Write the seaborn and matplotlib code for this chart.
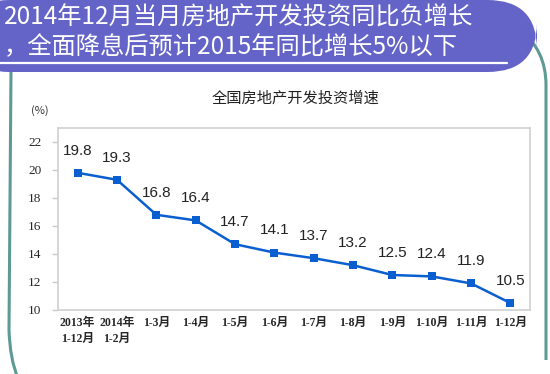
import matplotlib
matplotlib.use('Agg')
import matplotlib.pyplot as plt
import numpy as np
import pandas as pd
import seaborn as sns
from matplotlib.patches import FancyBboxPatch, PathPatch
from matplotlib.path import Path

sns.set_theme(style='white')
plt.rcParams['font.family'] = ['Noto Sans CJK SC', 'DejaVu Sans']

# Data
periods = ['2013年\n1-12月', '2014年\n1-2月', '1-3月', '1-4月', '1-5月', '1-6月',
           '1-7月', '1-8月', '1-9月', '1-10月', '1-11月', '1-12月']
growth = [19.8, 19.3, 16.8, 16.4, 14.7, 14.1, 13.7, 13.2, 12.5, 12.4, 11.9, 10.5]
y_ticks = [10, 12, 14, 16, 18, 20, 22]

headline = '2014年12月当月房地产开发投资同比负增长\n，全面降息后预计2015年同比增长5%以下'
chart_title = '全国房地产开发投资增速'

W, H = 550, 374
fig = plt.figure(figsize=(W / 100, H / 100), dpi=100)
fig.patch.set_facecolor('white')


def px(x, y):
    # pixel coords (top-left origin) -> figure fraction
    return x / W, 1 - y / H


teal = '#5E9A94'
# teal outline frame
verts = [px(11, 70), px(9, 330), px(10, 360), px(18, 378)]
fig.add_artist(PathPatch(Path(verts, [Path.MOVETO, Path.LINETO, Path.CURVE3, Path.CURVE3]),
                         facecolor='none', edgecolor=teal, lw=2.2, transform=fig.transFigure))
verts = [px(520, 30), px(546, 50), px(546, 85), px(546, 360)]
fig.add_artist(PathPatch(Path(verts, [Path.MOVETO, Path.CURVE3, Path.CURVE3, Path.LINETO]),
                         facecolor='none', edgecolor=teal, lw=2.2, transform=fig.transFigure))

# banner
x0, y0 = px(-40, 72)
x1, y1 = px(537, 0)
banner = FancyBboxPatch((x0, y0), x1 - x0, y1 - y0,
                        boxstyle='round,pad=0,rounding_size=0.09',
                        mutation_aspect=W / H,
                        facecolor='#6464C8', edgecolor='none',
                        transform=fig.transFigure)
fig.add_artist(banner)
fig.add_artist(plt.Line2D([0, 507 / W], [1 - 63 / H] * 2, color='white', lw=1.6,
                          transform=fig.transFigure))
fig.text(4 / W, 1 - 32 / H, headline, color='white', fontsize=17.5, fontweight='medium',
         ha='left', va='center', linespacing=1.18,
         family=['Noto Sans CJK SC', 'DejaVu Sans'])

# chart
ax = fig.add_axes([58 / W, 1 - 310 / H, 472 / W, 182 / H])
x = np.arange(len(growth))
df = pd.DataFrame({'x': x, 'growth': growth})
sns.lineplot(data=df, x='x', y='growth', ax=ax, color='#0A5FD0', lw=1.8,
             marker='s', markersize=5.5, markeredgewidth=0)

for xi, v in zip(x, growth):
    ax.annotate(f'{v}', (xi, v), xytext=(0, 11), textcoords='offset points',
                ha='center', va='bottom', fontsize=11, color='#222222',
                family=['Liberation Sans', 'DejaVu Sans'])

ax.set_xlim(-0.5, len(growth) - 0.5)
ax.set_ylim(10, 23)
ax.set_yticks(y_ticks)
ax.set_yticklabels([str(t) for t in y_ticks], fontsize=9.5,
                   family=['Liberation Serif', 'Noto Sans CJK SC'])
ax.set_xticks(x)
ax.set_xticklabels(periods, fontsize=8.5, linespacing=1.4, fontweight='bold',
                   family=['Liberation Serif', 'Noto Sans CJK SC'], va='top')
ax.set_xticks(np.arange(len(growth) - 1) + 0.5, minor=True)
ax.tick_params(axis='x', which='major', length=0, pad=5)
ax.tick_params(axis='x', which='minor', length=4, direction='in', color='#C8C8C8', width=1)
ax.tick_params(axis='y', length=4, direction='out', color='#C8C8C8', width=1, pad=8, left=True)
ax.set_xlabel('')
ax.set_ylabel('')
for s in ax.spines.values():
    s.set_color('#D0D0D0')
    s.set_linewidth(1.2)

fig.text(296 / W, 1 - 98 / H, chart_title, ha='center', va='center', fontsize=11,
         color='#222222')
fig.text(40 / W, 1 - 111 / H, '(%)', ha='center', va='center', fontsize=8,
         color='#333333')

fig.savefig('out.png', dpi=100)
